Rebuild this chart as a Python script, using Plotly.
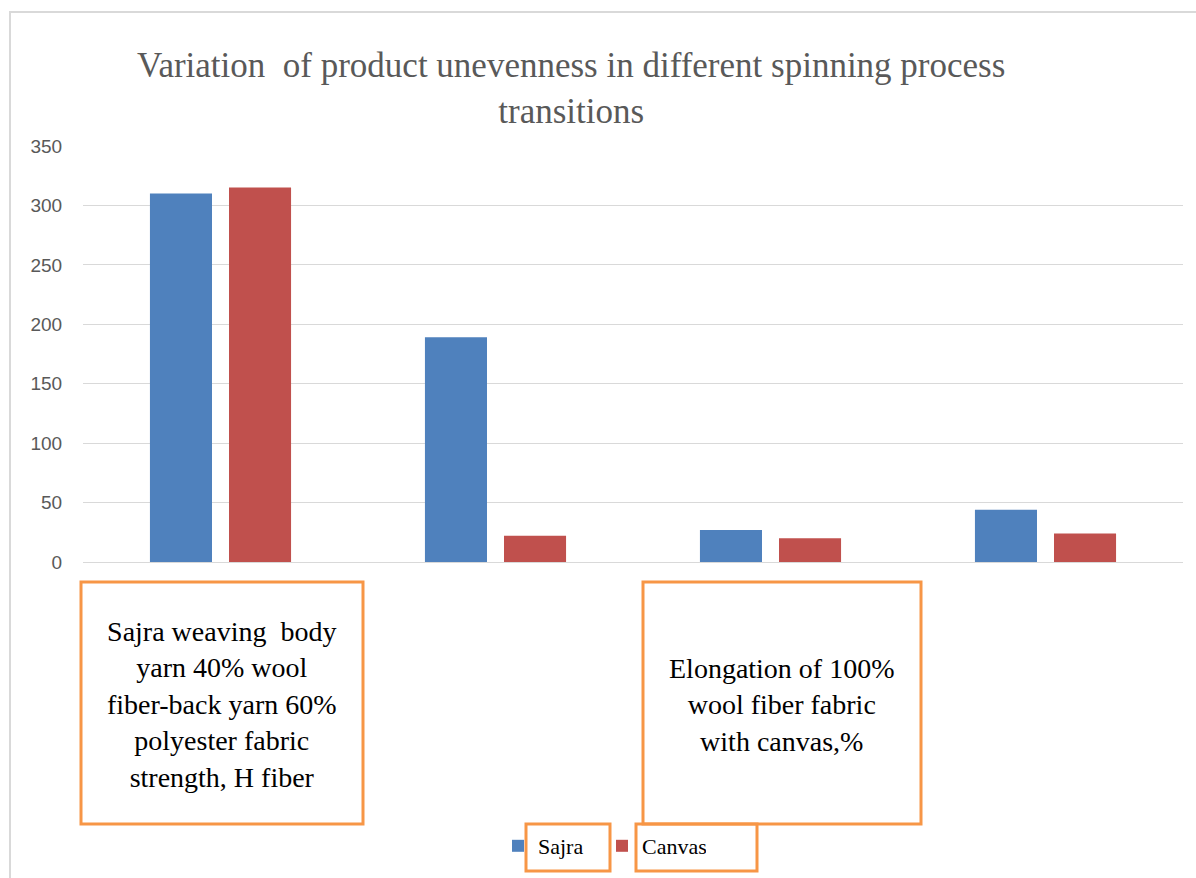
import plotly.graph_objects as go

# ---- data ----
categories = ["1", "2", "3", "4"]
sajra = [310, 189, 27, 44]
canvas = [315, 22, 20, 24]
series_names = ["Sajra", "Canvas"]
box_labels = [
    "Sajra weaving  body<br>yarn 40% wool<br>fiber-back yarn 60%<br>polyester fabric<br>strength, H fiber",
    "Elongation of 100%<br>wool fiber fabric<br>with canvas,%",
]
y_ticks = [0, 50, 100, 150, 200, 250, 300, 350]
title_text = "Variation  of product unevenness in different spinning process<br>transitions"

W, H = 1196, 878
L, R, T, B = 83, 13, 146, 316
PW = W - L - R
PH = H - T - B


def px(x):
    return (x - L) / PW


def py(y):
    return (H - B - y) / PH


ORANGE = "#F79646"
GREY = "#595959"

fig = go.Figure()
fig.add_trace(go.Bar(x=categories, y=sajra, name=series_names[0], marker_color="#4F81BD",
                     marker_line_width=0))
fig.add_trace(go.Bar(x=categories, y=canvas, name=series_names[1], marker_color="#C0504D",
                     marker_line_width=0))

shapes = []
# outer chart frame
shapes.append(dict(type="rect", xref="paper", yref="paper", x0=px(10), x1=px(1210),
                   y0=py(890), y1=py(12), line=dict(color="#D9D9D9", width=2),
                   fillcolor="rgba(0,0,0,0)", layer="below"))
# annotation boxes
boxes = [(81, 363, 582, 824), (643, 921, 582, 824), (526, 610, 824, 871), (636, 757, 824, 871)]
for i, (x0, x1, y0, y1) in enumerate(boxes):
    shapes.append(dict(type="rect", xref="paper", yref="paper", x0=px(x0), x1=px(x1),
                       y0=py(y1), y1=py(y0), line=dict(color=ORANGE, width=3),
                       fillcolor="white" if i < 2 else "rgba(0,0,0,0)", layer="above"))

annotations = []
centers = [(222, 704), (782, 705)]
for (cx, cy), txt in zip(centers, box_labels):
    annotations.append(dict(text=txt, xref="paper", yref="paper", x=px(cx), y=py(cy),
                            xanchor="center", yanchor="middle", showarrow=False,
                            font=dict(family="Liberation Serif", size=28, color="black")))
# chart title
annotations.append(dict(text=title_text, xref="paper", yref="paper", x=px(571), y=py(89),
                        xanchor="center", yanchor="middle", showarrow=False,
                        font=dict(family="Liberation Serif", size=35, color=GREY)))

fig.update_layout(
    width=W, height=H,
    margin=dict(l=L, r=R, t=T, b=B, autoexpand=False),
    paper_bgcolor="white", plot_bgcolor="white",
    barmode="group", bargap=0.425, bargroupgap=0.215,
    xaxis=dict(showticklabels=False, showgrid=False, zeroline=False, showline=False, ticks=""),
    yaxis=dict(range=[0, 350], tickvals=y_ticks, showgrid=True, gridcolor="#D9D9D9", gridwidth=1,
               zeroline=True, zerolinecolor="#D9D9D9", zerolinewidth=1, showline=False,
               ticks="outside", ticklen=16, tickcolor="rgba(0,0,0,0)",
               tickfont=dict(family="Liberation Sans", size=19, color=GREY)),
    legend=dict(orientation="h", x=px(498), xanchor="left", y=py(846), yanchor="middle",
                entrywidth=59, entrywidthmode="pixels",
                font=dict(family="Liberation Serif", size=22, color="black"),
                bgcolor="rgba(0,0,0,0)"),
    shapes=shapes, annotations=annotations,
)

fig.write_html("out.html")
